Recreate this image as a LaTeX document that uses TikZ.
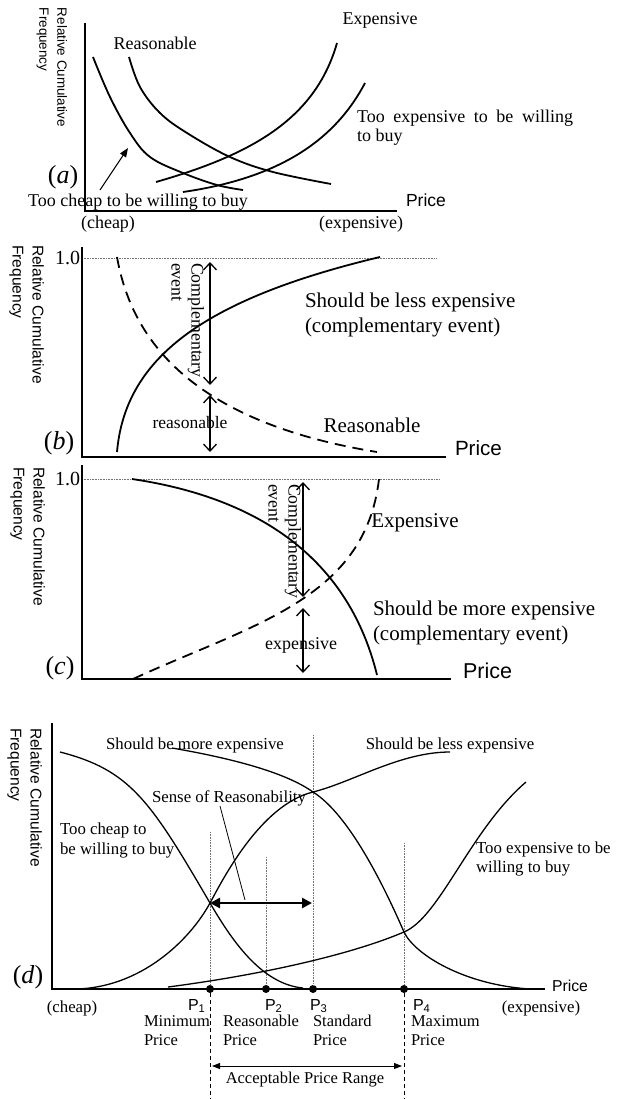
\documentclass[tikz,border=0pt]{standalone}
\usepackage{fontspec}
\setmainfont{Liberation Serif}
\setsansfont{Liberation Sans}
\usetikzlibrary{arrows.meta}
\newcommand\fsz[2]{\fontsize{#1}{#2}\selectfont}
\begin{document}
\begin{tikzpicture}[x=1pt,y=-1pt,
  txt/.style={inner sep=0pt, outer sep=0pt},
  crv/.style={line width=1.8pt, line join=round},
  dcrv/.style={line width=1.8pt, dash pattern=on 11pt off 7pt},
  dcrvthin/.style={line width=1.3pt, line join=round},
  axs/.style={line width=2pt},
  dotl/.style={line width=0.7pt, black!55, dash pattern=on 0.8pt off 0.8pt},
  dashl/.style={line width=1pt, dash pattern=on 4pt off 3pt},
  barb/.style={line width=1.3pt, {Straight Barb[length=7pt,width=13pt]}-{Straight Barb[length=7pt,width=13pt]}},
  ylab/.style={txt, rotate=-90, anchor=north west, align=left, font=\sffamily\fsz{15.6}{20}},
  plab/.style={txt, font=\fsz{26}{28}},
  dot/.style={circle, fill=black, inner sep=0pt, minimum size=8pt}
]
\useasboundingbox (0,0) rectangle (617,1099);

% ================= panel (a) =================
\coordinate (aO) at (85,211);
\coordinate (aY) at (85,23);
\coordinate (aX) at (397,211);
\draw[axs] (aY) -- (aO) -- (aX);
\node[ylab, font=\sffamily\fsz{13.4}{18}] (aylab) at (67,8) {Relative Cumulative\\Frequency};
\draw[crv] plot[smooth, tension=0.6] coordinates {(93,57) (110,97) (130,133) (150,157) (183,173) (217,185) (243,190)};
\draw[crv] plot[smooth, tension=0.6] coordinates {(129,57) (140,87) (160,113) (187,133) (230,157) (273,172) (331,184)};
\coordinate (ae0) at (156,182);
\coordinate (ae1) at (337,43);
\draw[crv] (ae0) .. controls (250,155) and (315,120) .. (ae1);
\coordinate (at0) at (183,192);
\coordinate (at1) at (365,83);
\draw[crv] (at0) .. controls (280,178) and (335,140) .. (at1);
\node[txt, font=\fsz{18}{19}] (aReas) at (155,43) {Reasonable};
\node[txt, font=\fsz{18}{19}] (aExp) at (380,20) {Expensive};
\node[txt, font=\fsz{18}{19}, anchor=west, align=left] (aTooExp) at (357,127.5) {\makebox[216pt][s]{Too expensive to be willing}\\to buy};
\node[txt, font=\fsz{18}{19}] (aTooCheap) at (138,202) {Too cheap to be willing to buy};
\node[txt, font=\fsz{18}{19}] (aCheap) at (108,224) {(cheap)};
\node[txt, font=\fsz{18}{19}] (aExpensive) at (361,224) {(expensive)};
\node[txt, font=\sffamily\fsz{17.5}{19}, anchor=west] (aPrice) at (406,200) {Price};
\node[plab] (aLab) at (63,177) {(\textit{a})};
\coordinate (aArS) at (100,190);
\coordinate (aArE) at (128,148);
\draw[line width=1.1pt, -{Triangle[length=9pt,width=7pt]}] (aArS) -- (aArE);

% ================= panel (b) =================
\coordinate (bO) at (82,457);
\coordinate (bY) at (82,247);
\coordinate (bX) at (446,457);
\coordinate (bT1) at (82,258);
\coordinate (bT2) at (436,258);
\draw[dotl] (bT1) -- (bT2);
\draw[axs] (bY) -- (bO) -- (bX);
\node[ylab] (bylab) at (44,245) {Relative Cumulative\\Frequency};
\node[txt, font=\fsz{20}{22}, anchor=east] (bOne) at (80,258) {1.0};
\coordinate (bd1) at (117,257);
\coordinate (bd2) at (377,452);
\draw[dcrv] (bd1) .. controls (130,330) and (180,420) .. (bd2);
\coordinate (bs1) at (117,452);
\coordinate (bs2) at (380,257);
\draw[crv] (bs1) .. controls (125,360) and (200,300) .. (bs2);
\coordinate (bA1) at (210,262);
\coordinate (bA2) at (210,385);
\coordinate (bA3) at (210,395);
\coordinate (bA4) at (210,452);
\draw[barb] (bA1) -- (bA2);
\draw[barb] (bA3) -- (bA4);
\node[txt, rotate=-90, anchor=north west, align=left, font=\fsz{17.8}{20}] (bComp) at (204,263) {Complementary\\event};
\node[txt, font=\fsz{17.5}{19}] (breas) at (190,423) {reasonable};
\node[txt, font=\fsz{21}{25}, anchor=west, align=left] (bLess) at (305,314.5) {Should be less expensive\\(complementary event)};
\node[txt, font=\fsz{21}{23}] (bReas) at (372,425) {Reasonable};
\node[txt, font=\sffamily\fsz{20.6}{22}, anchor=west] (bPrice) at (455,448) {Price};
\node[plab] (bLab) at (59,443) {(\textit{b})};

% ================= panel (c) =================
\coordinate (cO) at (82,679);
\coordinate (cY) at (82,465);
\coordinate (cX) at (451,679);
\coordinate (cT1) at (82,479);
\coordinate (cT2) at (440,479);
\draw[dotl] (cT1) -- (cT2);
\draw[axs] (cY) -- (cO) -- (cX);
\node[ylab] (cylab) at (45,467) {Relative Cumulative\\Frequency};
\node[txt, font=\fsz{20}{22}, anchor=east] (cOne) at (80,479) {1.0};
\coordinate (cs1) at (132,479);
\coordinate (cs2) at (377,675);
\draw[crv] (cs1) .. controls (240,495) and (345,545) .. (cs2);
\coordinate (cd1) at (133,679);
\coordinate (cd2) at (379,479);
\draw[dcrv] (cd1) .. controls (250,625) and (365,600) .. (cd2);
\coordinate (cA1) at (303,482);
\coordinate (cA2) at (303,597);
\coordinate (cA3) at (303,608);
\coordinate (cA4) at (303,673);
\draw[barb] (cA1) -- (cA2);
\draw[barb] (cA3) -- (cA4);
\node[txt, rotate=-90, anchor=north west, align=left, font=\fsz{17.8}{20}] (cComp) at (301,484) {Complementary\\event};
\node[txt, font=\fsz{18}{19}] (cexp) at (301,645) {expensive};
\node[txt, font=\fsz{21}{23}] (cExp) at (415,523) {Expensive};
\node[txt, font=\fsz{21}{25}, anchor=west, align=left] (cMore) at (373,622.5) {Should be more expensive\\(complementary event)};
\node[txt, font=\sffamily\fsz{21.5}{23}, anchor=west] (cPrice) at (463,671) {Price};
\node[plab] (cLab) at (60,668) {(\textit{c})};

% ================= panel (d) =================
\coordinate (dO) at (52,989);
\coordinate (dY) at (52,723);
\coordinate (dX) at (545,989);
\draw[line width=1.8pt] (dY) -- (dO) -- (dX);
\node[ylab] (dylab) at (42,728) {Relative Cumulative\\Frequency};
% price points
\node[dot] (P1) at (210,989) {};
\node[dot] (P2) at (266,989) {};
\node[dot] (P3) at (313,989) {};
\node[dot] (P4) at (404,989) {};
\coordinate (V1) at (210,832);
\coordinate (V2) at (266,857);
\coordinate (V3) at (313,735);
\coordinate (V4) at (404,843);
\draw[dotl] (V1) -- (P1);
\draw[dotl] (V2) -- (P2);
\draw[dotl] (V3) -- (P3);
\draw[dotl] (V4) -- (P4);
\coordinate (B1) at (210,1099);
\coordinate (B4) at (404,1099);
\draw[dashl] (P1) -- (B1);
\draw[dashl] (P4) -- (B4);
% intersections
\coordinate (X1) at (210,903);
\coordinate (X2) at (266,971);
\coordinate (X3) at (313,792);
\coordinate (X4) at (404,932);
% curves
\coordinate (tc0) at (60,752);
\coordinate (tc1) at (303,988);
\draw[dcrvthin] (tc0) .. controls (130,770) and (150,800) .. (X1) .. controls (230,937) and (260,984) .. (tc1);
\coordinate (me0) at (172,748);
\coordinate (me1) at (530,989);
\draw[dcrvthin] (me0) .. controls (230,758) and (285,772) .. (X3) .. controls (345,812) and (378,872) .. (X4) .. controls (415,955) and (465,985) .. (me1);
\coordinate (le0) at (73,989);
\coordinate (le1) at (450,752);
\draw[dcrvthin] (le0) .. controls (140,989) and (190,940) .. (X1) .. controls (222,881) and (260,805) .. (X3) .. controls (353,782) and (400,752) .. (le1);
\coordinate (te0) at (168,987);
\coordinate (te1) at (526,782);
\draw[dcrvthin] (te0) .. controls (260,975) and (350,955) .. (X4) .. controls (440,917) and (470,830) .. (te1);
% arrows
\coordinate (SR2) at (312,903);
\draw[line width=2.6pt, {Triangle[length=10pt,width=10pt]}-{Triangle[length=10pt,width=10pt]}] (X1) -- (SR2);
\coordinate (AR1) at (212,1066);
\coordinate (AR2) at (402,1066);
\draw[line width=0.9pt, {Triangle[length=8pt,width=6pt]}-{Triangle[length=8pt,width=6pt]}] (AR1) -- (AR2);
% labels
\node[txt, font=\fsz{16.8}{19}] (dMore) at (195,745) {Should be more expensive};
\node[txt, font=\fsz{16.8}{19}] (dLess) at (450,745) {Should be less expensive};
\node[txt, font=\fsz{16.8}{19}] (dSense) at (229,798) {Sense of Reasonability};
\coordinate (SP1) at (220,806);
\coordinate (SP2) at (245,900);
\draw[line width=0.8pt] (SP1) -- (SP2);
\node[txt, font=\fsz{16.8}{20}, anchor=west, align=left] (dCheap) at (60,840) {Too cheap to\\be willing to buy};
\node[txt, font=\fsz{16.8}{19}, anchor=west, align=left] (dTooExp) at (476,859) {Too expensive to be\\willing to buy};
\node[txt, font=\fsz{16.8}{19}] (dcheap) at (72,1008) {(cheap)};
\node[txt, font=\fsz{16.8}{19}] (dexp) at (541,1008) {(expensive)};
\node[txt, font=\sffamily\fsz{15.8}{18}, anchor=west] (dPrice) at (552,986) {Price};
\node[plab] (dLab) at (28,977) {(\textit{d})};
\node[txt, font=\sffamily\fsz{16}{18}, anchor=west] (L1) at (188,1006) {P\textsubscript{1}};
\node[txt, font=\sffamily\fsz{16}{18}, anchor=west] (L2) at (265,1006) {P\textsubscript{2}};
\node[txt, font=\sffamily\fsz{16}{18}, anchor=west] (L3) at (310,1006) {P\textsubscript{3}};
\node[txt, font=\sffamily\fsz{16}{18}, anchor=west] (L4) at (413,1006) {P\textsubscript{4}};
\node[txt, font=\fsz{16.5}{19}, anchor=west, align=left] (N1) at (144,1030.5) {Minimum\\Price};
\node[txt, font=\fsz{16.5}{19}, anchor=west, align=left] (N2) at (223,1030.5) {Reasonable\\Price};
\node[txt, font=\fsz{16.5}{19}, anchor=west, align=left] (N3) at (313,1030.5) {Standard\\Price};
\node[txt, font=\fsz{16.5}{19}, anchor=west, align=left] (N4) at (411,1030.5) {Maximum\\Price};
\node[txt, font=\fsz{16.5}{19}] (dRange) at (305,1080) {Acceptable Price Range};
\end{tikzpicture}
\end{document}
